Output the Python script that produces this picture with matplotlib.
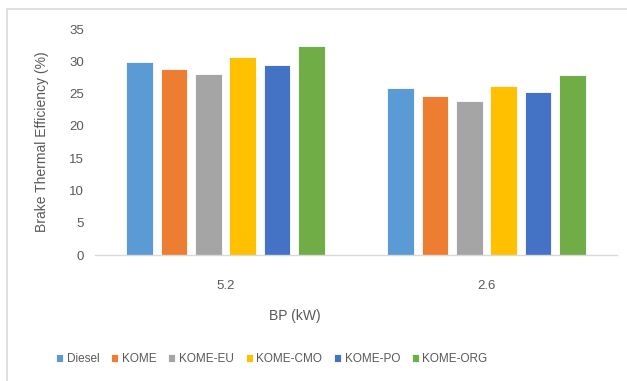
import numpy as np
import matplotlib.pyplot as plt
from matplotlib.patches import Rectangle

plt.rcParams['font.family'] = ['Liberation Sans Narrow', 'Liberation Sans', 'DejaVu Sans']

# brake power groups and fuel blends
loads = ["5.2", "2.6"]
fuels = ["Diesel", "KOME", "KOME-EU", "KOME-CMO", "KOME-PO", "KOME-ORG"]
colors = ["#5b9bd5", "#ed7d31", "#a5a5a5", "#ffc000", "#4472c4", "#70ad47"]

# brake thermal efficiency (%) per fuel, one value per load
diesel = [29.9, 25.8]
kome = [28.8, 24.6]
kome_eu = [28.1, 23.8]
kome_cmo = [30.6, 26.2]
kome_po = [29.4, 25.3]
kome_org = [32.4, 27.9]
series = [diesel, kome, kome_eu, kome_cmo, kome_po, kome_org]

text_color = "#595959"

fig = plt.figure(figsize=(6.27, 3.81), dpi=100)
ax = fig.add_axes([95 / 627, 1 - 255 / 381, 522 / 627, 226 / 381])

x = np.arange(len(loads))
pitch = 0.132
width = 0.102
for i, (name, vals, c) in enumerate(zip(fuels, series, colors)):
    offset = (i - (len(fuels) - 1) / 2) * pitch
    ax.bar(x + offset, vals, width, color=c, label=name,
           edgecolor="white", linewidth=0.6)

ax.set_xlim(-0.5, 1.5)
ax.set_ylim(0, 35)
ax.set_yticks(range(0, 36, 5))
ax.set_xticks(x)
ax.set_xticklabels(loads)
ax.tick_params(length=0, labelsize=9.5, colors=text_color)
ax.tick_params(axis="x", pad=18)
ax.tick_params(axis="y", pad=8)
for side in ["top", "right", "left"]:
    ax.spines[side].set_visible(False)
ax.spines["bottom"].set_color("#d9d9d9")
ax.spines["bottom"].set_linewidth(1.0)

ax.set_ylabel("Brake Thermal Efficiency (%)", fontsize=10, color=text_color)
ax.yaxis.set_label_coords(-0.088, 0.5)
fig.text(295 / 627, 1 - 316 / 381, "BP (kW)", fontsize=10, color=text_color,
         ha="center", va="center")

leg = fig.legend(loc="center", bbox_to_anchor=(272 / 627, 1 - 359 / 381),
                 ncol=6, frameon=False, fontsize=8.5, handlelength=0.6,
                 handleheight=0.6, handletextpad=0.3, columnspacing=1.0,
                 labelcolor=text_color)

# outer chart frame
fig.patches.append(Rectangle((7 / 627, -0.01), 1.0, 1 - 9 / 381 + 0.01,
                             transform=fig.transFigure, fill=False,
                             edgecolor="#d9d9d9", linewidth=1.2))

fig.savefig("out.png", dpi=100)
